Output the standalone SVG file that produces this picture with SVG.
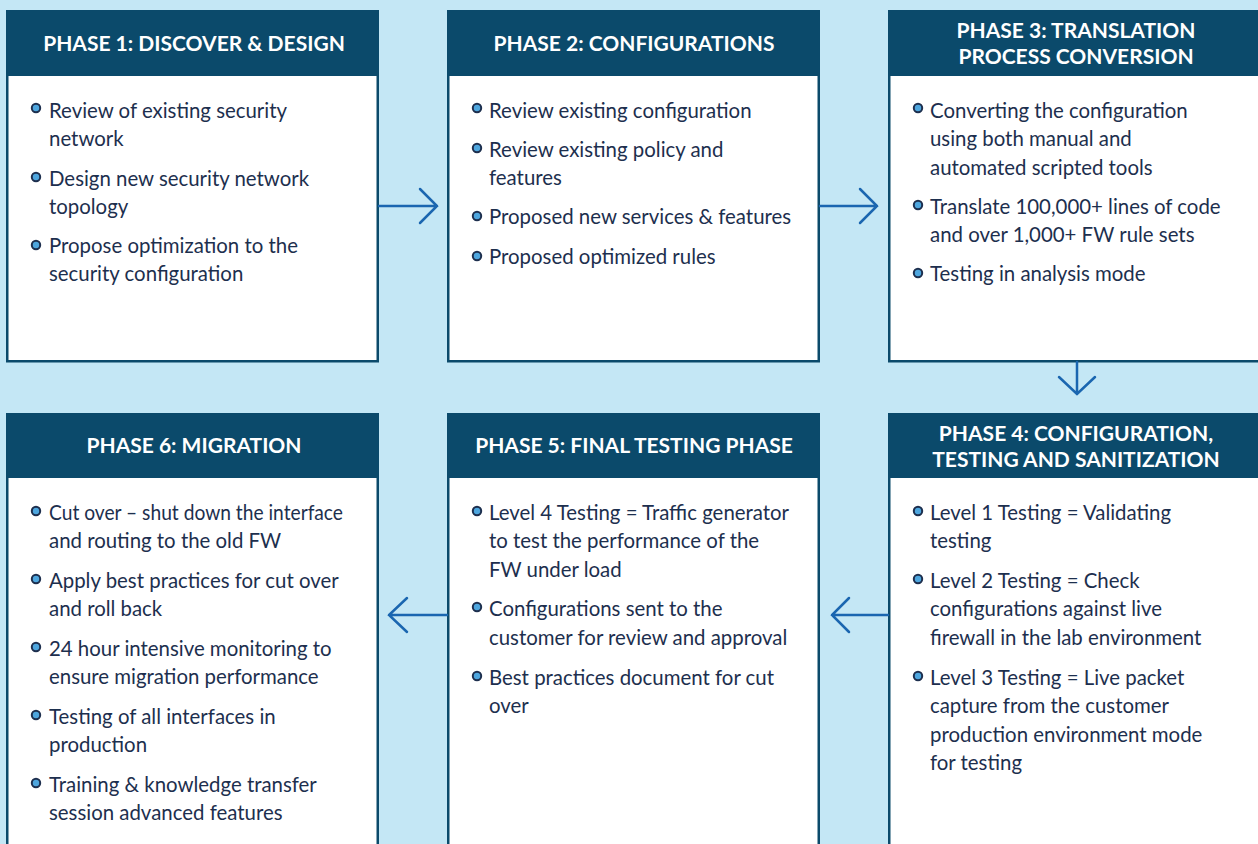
<svg xmlns="http://www.w3.org/2000/svg" width="1258" height="844" viewBox="0 0 1258 844">
<style>
.box{fill:#ffffff;stroke:#0b4a6b;stroke-width:2.5}
.hdr{fill:#0b4a6b}
.ht{font-family:Lato,"Open Sans",sans-serif;font-weight:700;font-size:21px;fill:#ffffff;text-anchor:middle}
.bt{font-family:Lato,"Noto Sans",sans-serif;font-size:20.4px;fill:#1d2f4e}
.bul{fill:#4ea6de;stroke:#1d2f4e;stroke-width:2}
.arr{fill:none;stroke:#1a66b0;stroke-width:2.5;stroke-linecap:round;stroke-linejoin:miter}
</style>
<rect x="0" y="0" width="1258" height="844" fill="#c4e7f5"/>

<g id="phase1">
<rect class="box" x="7.25" y="11.25" width="370.5" height="350"/>
<rect class="hdr" x="6" y="10" width="373" height="66"/>
<text class="ht" x="194" y="51">PHASE 1: DISCOVER &amp; DESIGN</text>
<circle class="bul" cx="36" cy="108" r="4.2"/>
<text class="bt" x="49" y="118">Review of existing security</text>
<text class="bt" x="49" y="146">network</text>
<circle class="bul" cx="36" cy="177" r="4.2"/>
<text class="bt" x="49" y="186">Design new security network</text>
<text class="bt" x="49" y="214">topology</text>
<circle class="bul" cx="36" cy="245" r="4.2"/>
<text class="bt" x="49" y="253">Propose optimization to the</text>
<text class="bt" x="49" y="281">security configuration</text>
</g>

<g id="phase2">
<rect class="box" x="448.25" y="11.25" width="370.5" height="350"/>
<rect class="hdr" x="447" y="10" width="373" height="66"/>
<text class="ht" x="634" y="51">PHASE 2: CONFIGURATIONS</text>
<circle class="bul" cx="477" cy="108" r="4.2"/>
<text class="bt" x="489" y="118">Review existing configuration</text>
<circle class="bul" cx="477" cy="148" r="4.2"/>
<text class="bt" x="489" y="157">Review existing policy and</text>
<text class="bt" x="489" y="185">features</text>
<circle class="bul" cx="477" cy="216" r="4.2"/>
<text class="bt" x="489" y="224">Proposed new services &amp; features</text>
<circle class="bul" cx="477" cy="256" r="4.2"/>
<text class="bt" x="489" y="264">Proposed optimized rules</text>
</g>

<g id="phase3">
<rect class="box" x="889.25" y="11.25" width="372" height="350"/>
<rect class="hdr" x="888" y="10" width="372" height="66"/>
<text class="ht" x="1076" y="38">PHASE 3: TRANSLATION</text>
<text class="ht" x="1076" y="64">PROCESS CONVERSION</text>
<circle class="bul" cx="918" cy="108" r="4.2"/>
<text class="bt" x="930" y="118">Converting the configuration</text>
<text class="bt" x="930" y="146">using both manual and</text>
<text class="bt" x="930" y="175">automated scripted tools</text>
<circle class="bul" cx="918" cy="205" r="4.2"/>
<text class="bt" x="930" y="214">Translate 100,000+ lines of code</text>
<text class="bt" x="930" y="242">and over 1,000+ FW rule sets</text>
<circle class="bul" cx="918" cy="273" r="4.2"/>
<text class="bt" x="930" y="281">Testing in analysis mode</text>
</g>

<g id="phase4">
<rect class="box" x="889.25" y="414.25" width="372" height="440"/>
<rect class="hdr" x="888" y="413" width="372" height="65"/>
<text class="ht" x="1076" y="441">PHASE 4: CONFIGURATION,</text>
<text class="ht" x="1076" y="467">TESTING AND SANITIZATION</text>
<circle class="bul" cx="918" cy="511" r="4.2"/>
<text class="bt" x="930" y="520">Level 1 Testing = Validating</text>
<text class="bt" x="930" y="548">testing</text>
<circle class="bul" cx="918" cy="579" r="4.2"/>
<text class="bt" x="930" y="588">Level 2 Testing = Check</text>
<text class="bt" x="930" y="616">configurations against live</text>
<text class="bt" x="930" y="645">firewall in the lab environment</text>
<circle class="bul" cx="918" cy="676" r="4.2"/>
<text class="bt" x="930" y="685">Level 3 Testing = Live packet</text>
<text class="bt" x="930" y="713">capture from the customer</text>
<text class="bt" x="930" y="742">production environment mode</text>
<text class="bt" x="930" y="770">for testing</text>
</g>

<g id="phase5">
<rect class="box" x="448.25" y="414.25" width="370.5" height="440"/>
<rect class="hdr" x="447" y="413" width="373" height="65"/>
<text class="ht" x="634" y="453">PHASE 5: FINAL TESTING PHASE</text>
<circle class="bul" cx="477" cy="511" r="4.2"/>
<text class="bt" x="489" y="520">Level 4 Testing = Traffic generator</text>
<text class="bt" x="489" y="548">to test the performance of the</text>
<text class="bt" x="489" y="577">FW under load</text>
<circle class="bul" cx="477" cy="607" r="4.2"/>
<text class="bt" x="489" y="616">Configurations sent to the</text>
<text class="bt" x="489" y="645">customer for review and approval</text>
<circle class="bul" cx="477" cy="676" r="4.2"/>
<text class="bt" x="489" y="685">Best practices document for cut</text>
<text class="bt" x="489" y="713">over</text>
</g>

<g id="phase6">
<rect class="box" x="7.25" y="414.25" width="370.5" height="440"/>
<rect class="hdr" x="6" y="413" width="373" height="65"/>
<text class="ht" x="194" y="453">PHASE 6: MIGRATION</text>
<circle class="bul" cx="36" cy="511" r="4.2"/>
<text class="bt" x="49" y="520" textLength="294" lengthAdjust="spacingAndGlyphs">Cut over – shut down the interface</text>
<text class="bt" x="49" y="548">and routing to the old FW</text>
<circle class="bul" cx="36" cy="579" r="4.2"/>
<text class="bt" x="49" y="588">Apply best practices for cut over</text>
<text class="bt" x="49" y="616">and roll back</text>
<circle class="bul" cx="36" cy="647" r="4.2"/>
<text class="bt" x="49" y="656">24 hour intensive monitoring to</text>
<text class="bt" x="49" y="684">ensure migration performance</text>
<circle class="bul" cx="36" cy="715" r="4.2"/>
<text class="bt" x="49" y="724">Testing of all interfaces in</text>
<text class="bt" x="49" y="752">production</text>
<circle class="bul" cx="36" cy="783" r="4.2"/>
<text class="bt" x="49" y="792">Training &amp; knowledge transfer</text>
<text class="bt" x="49" y="820">session advanced features</text>
</g>

<g id="connectors">
<path class="arr" d="M379 206 H437 M420 189 L437 206 L420 223"/>
<path class="arr" d="M820 206 H877 M860 189 L877 206 L860 223"/>
<path class="arr" d="M1077 362 V394 M1059 377 L1077 394 L1095 377"/>
<path class="arr" d="M888 615 H832 M849 598 L832 615 L849 632"/>
<path class="arr" d="M447 615 H389 M407 598 L389 615 L407 632"/>
</g>
</svg>
